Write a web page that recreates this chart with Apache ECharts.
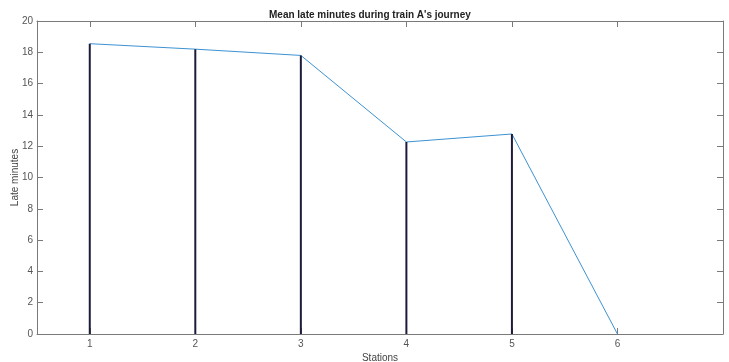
<!DOCTYPE html>
<html>
<head>
<meta charset="utf-8">
<script src="https://cdn.jsdelivr.net/npm/echarts@6/dist/echarts.min.js"></script>
<style>html,body{margin:0;padding:0;background:#fff;}#c{width:729px;height:362px;}</style>
</head>
<body>
<div id="c"></div>
<script>
const stations = [1, 2, 3, 4, 5, 6];
const lateMinutes = [18.55, 18.2, 17.8, 12.27, 12.78, 0];
const xTicks = [1, 2, 3, 4, 5, 6];
const yTicks = [0, 2, 4, 6, 8, 10, 12, 14, 16, 18, 20];
const titleText = "Mean late minutes during train A's journey";
const xName = 'Stations';
const yName = 'Late minutes';

const axisColor = '#7a7a7a';
const labelColor = '#555';
const font = 'Liberation Sans, Arial, sans-serif';

const pts = stations.map((s, i) => [s, lateMinutes[i]]);

const chart = echarts.init(document.getElementById('c'), null, {renderer: 'canvas'});
chart.setOption({
  animation: false,
  title: {
    text: titleText, left: 264, top: 5,
    textStyle: {fontSize: 10, fontWeight: 'bold', color: '#222', fontFamily: font}
  },
  grid: {left: 37, right: 6, top: 21, bottom: 28, containLabel: false, outerBoundsMode: 'none'},
  xAxis: [{
    type: 'value', min: 0.5, max: 7, position: 'bottom',
    name: xName, nameLocation: 'middle', nameGap: 19, nameMoveOverlap: false,
    nameTextStyle: {fontSize: 10, color: '#444', fontFamily: font},
    axisLine: {show: true, onZero: false, lineStyle: {color: axisColor, width: 1}},
    axisTick: {show: true, inside: true, length: 6, customValues: xTicks, lineStyle: {color: axisColor}},
    axisLabel: {customValues: xTicks, fontSize: 10, color: labelColor, fontFamily: font, margin: 5},
    splitLine: {show: false}
  }, {
    type: 'value', min: 0.5, max: 7, position: 'top',
    axisLine: {show: true, onZero: false, lineStyle: {color: axisColor, width: 1}},
    axisTick: {show: true, inside: true, length: 6, customValues: xTicks, lineStyle: {color: axisColor}},
    axisLabel: {show: false},
    splitLine: {show: false}
  }],
  yAxis: [{
    type: 'value', min: 0, max: 20, interval: 2, position: 'left',
    name: yName, nameLocation: 'middle', nameGap: 17, nameRotate: 90, nameMoveOverlap: false,
    nameTextStyle: {fontSize: 10, color: '#444', fontFamily: font},
    axisLine: {show: true, onZero: false, lineStyle: {color: axisColor, width: 1}},
    axisTick: {show: true, inside: true, length: 6, lineStyle: {color: axisColor}},
    axisLabel: {fontSize: 10, color: labelColor, fontFamily: font, margin: 4},
    splitLine: {show: false}
  }, {
    type: 'value', min: 0, max: 20, interval: 2, position: 'right',
    axisLine: {show: true, onZero: false, lineStyle: {color: axisColor, width: 1}},
    axisTick: {show: true, inside: true, length: 6, lineStyle: {color: axisColor}},
    axisLabel: {show: false},
    splitLine: {show: false}
  }],
  series: [{
    type: 'line', data: pts, xAxisIndex: 0, yAxisIndex: 0,
    showSymbol: false, symbol: 'none',
    lineStyle: {color: '#3d92d2', width: 1}, z: 3
  }, {
    type: 'bar', data: pts, xAxisIndex: 0, yAxisIndex: 0,
    barWidth: 2, itemStyle: {color: '#1c1c3a'}, z: 4
  }]
});
</script>
</body>
</html>
